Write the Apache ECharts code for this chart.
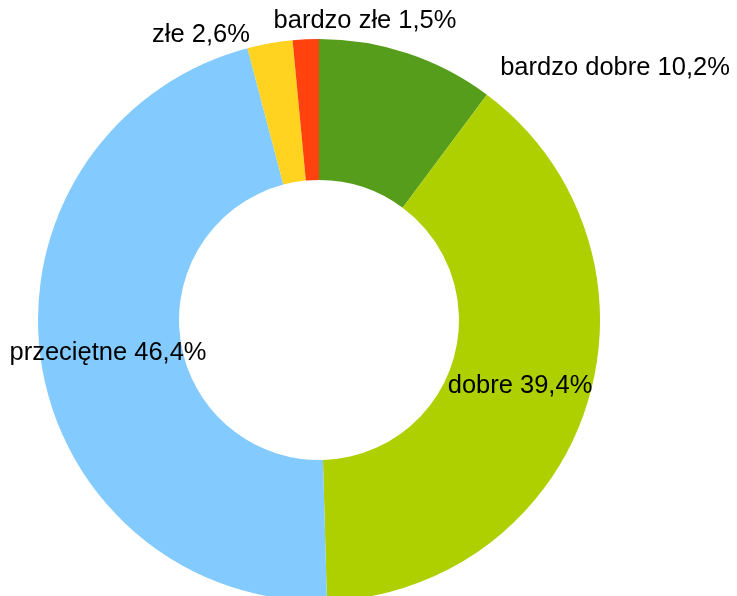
<!DOCTYPE html>
<html>
<head>
<meta charset="utf-8">
<script src="https://cdn.jsdelivr.net/npm/echarts@6/dist/echarts.min.js"></script>
<style>
  html, body { margin: 0; padding: 0; background: #fff; }
  #chart { width: 737px; height: 596px; }
</style>
</head>
<body>
<div id="chart"></div>
<script>
// kategorie i wartości (%)
const categories = ['bardzo dobre', 'dobre', 'przeciętne', 'złe', 'bardzo złe'];
const values = [10.2, 39.4, 46.4, 2.6, 1.5];
const colors = ['#579d1c', '#aecf00', '#83caff', '#ffd320', '#ff420e'];

// środki etykiet (px)
const labelPos = [[615, 68], [520, 386], [108, 353], [201, 35], [365, 21]];

var chartDom = document.getElementById('chart');
var myChart = echarts.init(chartDom);
var option;

option = {
    backgroundColor: '#fff',
    animation: false,
    series: [
        {
            type: 'pie',
            center: [319, 320],
            radius: [140, 281],
            startAngle: 90,
            clockwise: true,
            avoidLabelOverlap: false,
            data: categories.map((name, i) => ({
                name: name,
                value: values[i],
                itemStyle: { color: colors[i] }
            })),
            label: {
                show: true,
                position: 'inside',
                color: '#000',
                fontFamily: 'Liberation Sans',
                fontSize: 25.5,
                formatter: function (p) {
                    return p.name + ' ' + String(p.value).replace('.', ',') + '%';
                }
            },
            labelLine: { show: false },
            labelLayout: function (params) {
                const pos = labelPos[params.dataIndex];
                return { x: pos[0], y: pos[1], align: 'center', verticalAlign: 'middle' };
            },
            emphasis: { disabled: true }
        }
    ]
};

option && myChart.setOption(option);
</script>
</body>
</html>
